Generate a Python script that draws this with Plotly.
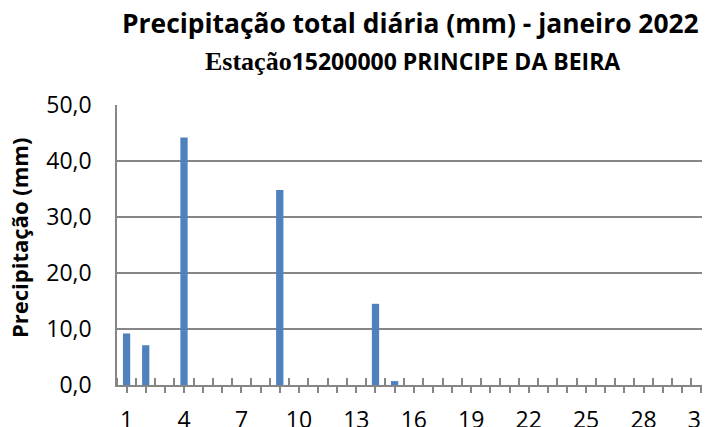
import plotly.graph_objects as go

days = list(range(1, 32))
precip = [9.2, 7.1, 0, 44.2, 0, 0, 0, 0, 34.8, 0, 0, 0, 0, 14.5, 0.7,
          0, 0, 0, 0, 0, 0, 0, 0, 0, 0, 0, 0, 0, 0, 0, 0]
tick_labels = [str(d) if (d - 1) % 3 == 0 else "" for d in days]
y_ticks = [0, 10, 20, 30, 40, 50]

title_text = "Precipitação total diária (mm) - janeiro 2022"
subtitle_prefix = "Estação"
subtitle_station = "15200000 PRINCIPE DA BEIRA"
y_title = "Precipitação (mm)"

GRAY = "#868686"
SANS = "Open Sans"

fig = go.Figure()
fig.add_trace(go.Bar(x=days, y=precip, width=0.38,
                     marker=dict(color="#4F81BD", line=dict(width=0))))

# page body has an 8px margin; figure sized so it fits the window
fig.update_layout(
    width=702, height=419,
    margin=dict(l=109, r=0, t=97, b=42, autoexpand=False),
    paper_bgcolor="white", plot_bgcolor="white",
    separators=",.",
    showlegend=False,
    font=dict(family=SANS, color="black"),
)
fig.update_xaxes(
    range=[0.5, 31.47], automargin=False,
    tickmode="array", tickvals=days, ticktext=tick_labels,
    ticks="outside", ticklen=6, tickwidth=1.5, tickcolor=GRAY,
    minor=dict(tick0=0.5, dtick=1, ticks="inside", ticklen=7,
               tickwidth=1.5, tickcolor=GRAY, showgrid=False),
    showline=True, linecolor=GRAY, linewidth=1.5,
    showgrid=False, zeroline=False,
    tickfont=dict(family=SANS, size=23, color="black"),
    ticklabelstandoff=8, ticklabeloverflow="allow",
)
fig.update_yaxes(
    range=[0, 50], automargin=False,
    tickmode="array", tickvals=y_ticks, tickformat=".1f",
    showgrid=True, gridcolor=GRAY, gridwidth=1.5,
    showline=True, linecolor=GRAY, linewidth=1.5,
    zeroline=False, ticks="",
    tickfont=dict(family=SANS, size=23, color="black"),
    ticklabelstandoff=19, ticklabeloverflow="allow",
)

fig.add_annotation(text=f"<b>{title_text}</b>", xref="paper", yref="paper",
                   x=0.5, xanchor="center", xshift=-3, y=1, yanchor="middle",
                   yshift=82, showarrow=False,
                   font=dict(family=SANS, size=26.4, color="black"))
fig.add_annotation(
    text=(f"<b><span style='font-family:Liberation Serif;font-size:26px'>{subtitle_prefix}</span>"
          f"{subtitle_station}</b>"),
    xref="paper", yref="paper", x=0.5, xanchor="center", xshift=-1, y=1,
    yanchor="middle", yshift=44, showarrow=False,
    font=dict(family=SANS, size=23, color="black"))
fig.add_annotation(text=f"<b>{y_title}</b>", xref="paper", yref="paper",
                   x=0, xanchor="center", xshift=-98, y=0.5, yanchor="middle",
                   yshift=7, textangle=-90, showarrow=False,
                   font=dict(family=SANS, size=22, color="black"))

fig.write_html("out.html")
